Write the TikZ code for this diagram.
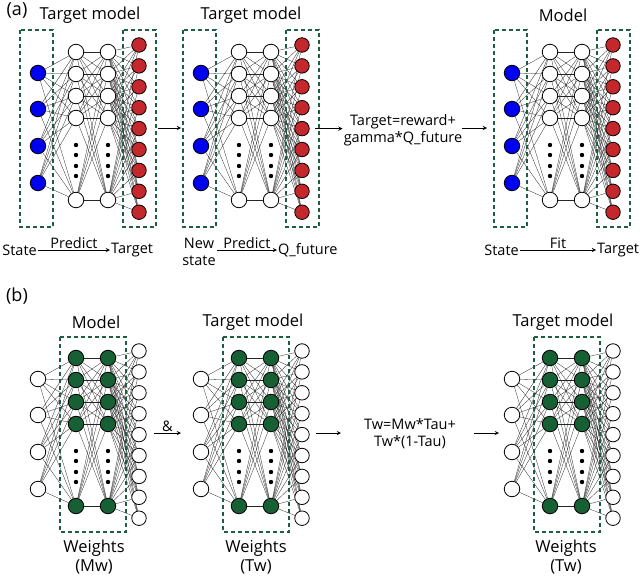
\documentclass[tikz,border=0pt]{standalone}
\usepackage{fontspec}
\setmainfont{Open Sans}
\usetikzlibrary{backgrounds}
\definecolor{inblue}{RGB}{0,0,240}
\definecolor{outred}{RGB}{196,40,44}
\definecolor{hidgreen}{RGB}{22,96,52}
\definecolor{boxgreen}{RGB}{30,95,65}
\tikzset{
  neuron/.style={circle,draw,line width=0.8pt,minimum size=15.5pt,inner sep=0pt},
  synapse/.style={line width=0.3pt,black!85},
  netbox/.style={draw=boxgreen,dashed,line width=1.1pt,dash pattern=on 4pt off 3pt},
  title/.style={font=\fontsize{16.5}{19}\selectfont},
  lbl/.style={font=\fontsize{14.5}{17}\selectfont,inner sep=1pt},
  flow/.style={-stealth,line width=0.9pt}
}
% one network: x offset, y offset, name, input/hidden/output colours, box mode
\newcommand{\drawnet}[7]{%
\begin{scope}[shift={(#1,#2)}]
  \foreach \k/\y in {1/73,2/109,3/146,4/183}
    \node[neuron,fill=#4] (#3-i-\k) at (38,\y) {};
  \foreach \k/\y in {1/52,2/74,3/96,4/118,5/200} {
    \node[neuron,fill=#5] (#3-a-\k) at (76,\y) {};
    \node[neuron,fill=#5] (#3-b-\k) at (108,\y) {};
  }
  \foreach \k in {1,...,9}
    \node[neuron,fill=#6,minimum size=14.5pt] (#3-o-\k) at (139,{45+(\k-1)*20.9}) {};
  \foreach \y in {145,155,166,176}
    \fill (76,\y) circle (2.2) (108,\y) circle (2.2);
  \begin{pgfonlayer}{background}
  \foreach \p in {1,...,4} \foreach \q in {1,...,5}
    \draw[synapse] (#3-i-\p) -- (#3-a-\q);
  \foreach \p in {1,...,5} \foreach \q in {1,...,5}
    \draw[synapse] (#3-a-\p) -- (#3-b-\q);
  \foreach \p in {1,...,5} \foreach \q in {1,...,9}
    \draw[synapse] (#3-b-\p) -- (#3-o-\q);
  \end{pgfonlayer}
  \ifnum#7=1
    \draw[netbox] (20,30) rectangle (53,227);
    \draw[netbox] (123,30) rectangle (156,227);
  \else
    \draw[netbox] (60,31) rectangle (126,226);
  \fi
\end{scope}}

\begin{document}
\begin{tikzpicture}[x=1pt,y=-1pt]
\useasboundingbox (0,0) rectangle (640,586);

% (a)
\node[title,font=\fontsize{18}{20}\selectfont] at (17,11) {(a)};
\drawnet{0}{0}{na}{inblue}{white}{outred}{1}
\drawnet{163}{0}{nb}{inblue}{white}{outred}{1}
\drawnet{474}{0}{nc}{inblue}{white}{outred}{1}
\node[title] (ta) at (90,15) {Target model};
\node[title] (tb) at (251,15) {Target model};
\node[title] (tc) at (563,15) {Model};

\node[lbl,anchor=east] (sa) at (38,250) {State};
\node[lbl,anchor=west] (ga) at (110,250) {Target};
\draw[flow] (sa) -- node[lbl,above] {Predict} (ga);

\node[lbl,align=center] (sb) at (199,252) {New\\state};
\node[lbl,anchor=west] (gb) at (277,250) {Q\_future};
\draw[flow] (sb.east|-gb.west) -- node[lbl,above] {Predict} (gb);

\node[lbl,anchor=east] (sc) at (520,250) {State};
\node[lbl,anchor=west] (gc) at (596,250) {Target};
\draw[flow] (sc) -- node[lbl,above] {Fit} (gc);

\node[lbl,align=center] (eq) at (403,130) {Target=reward+\\gamma*Q\_future};
\coordinate (a1) at (158,128);
\coordinate (a2) at (181,128);
\draw[flow] (a1) -- (a2);
\draw[flow] (nb-o-5.east) ++(5,0) coordinate (a3) -- (eq.west|-a3);
\coordinate (a4) at (462,128);
\coordinate (a5) at (487,128);
\draw[flow] (a4) -- (a5);

% (b)
\node[title,font=\fontsize{18}{20}\selectfont] at (17,296) {(b)};
\drawnet{0}{306}{ma}{white}{hidgreen}{white}{2}
\drawnet{163}{306}{mb}{white}{hidgreen}{white}{2}
\drawnet{474}{306}{mc}{white}{hidgreen}{white}{2}
\node[title] (ua) at (96,322) {Model};
\node[title] (ub) at (253,322) {Target model};
\node[title] (uc) at (563,322) {Target model};
\node[title,align=center] (wa) at (94,557) {Weights\\(Mw)};
\node[title,align=center] (wb) at (256,557) {Weights\\(Tw)};
\node[title,align=center] (wc) at (566,557) {Weights\\(Tw)};

\node[lbl,align=center] (up) at (410,434) {Tw=Mw*Tau+\\Tw*(1-Tau)};
\coordinate (b1) at (154,433);
\coordinate (b2) at (181,433);
\draw[flow] (b1) -- node[lbl,above] {\&} (b2);
\coordinate (b3) at (316,433);
\draw[flow] (b3) -- ++(25,0);
\coordinate (b4) at (474,433);
\draw[flow] (b4) -- ++(25,0);
\end{tikzpicture}
\end{document}
